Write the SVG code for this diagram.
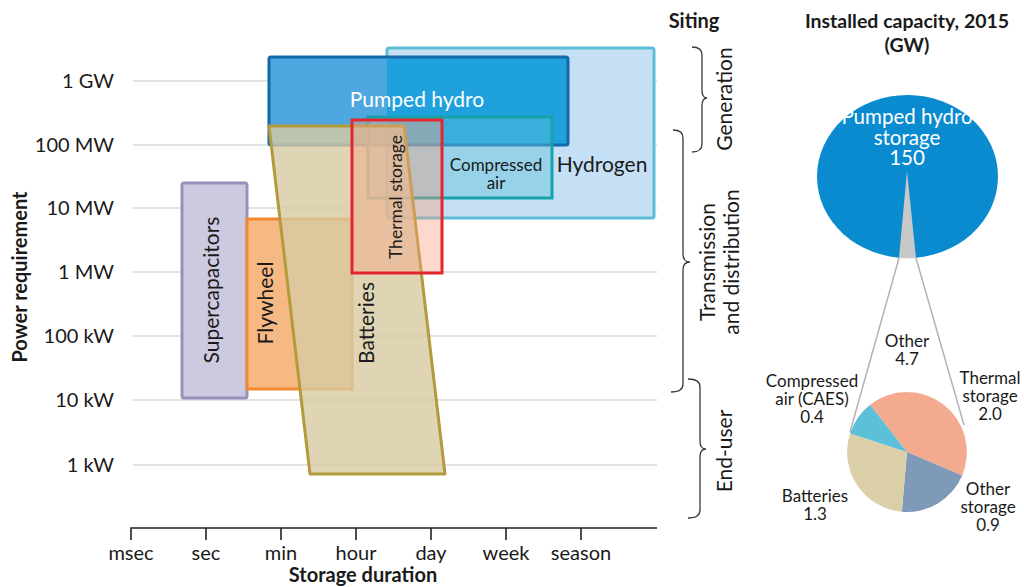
<svg xmlns="http://www.w3.org/2000/svg" width="1024" height="587" viewBox="0 0 1024 587">
  <style>
    text { font-family: Lato, "Liberation Sans", sans-serif; fill: #1a1a1a; }
    .tick { font-size: 20px; }
    .axis-title { font-size: 20px; font-weight: bold; }
    .lbl { font-size: 21px; }
    .sm { font-size: 17px; }
    .pie { font-size: 17px; }
    .big { font-size: 20.5px; fill: #ffffff; }
    .white { fill: #ffffff; }
    .grid { stroke: #d9d9d9; stroke-width: 1.5; }
    .brace { fill: none; stroke: #3a3a3a; stroke-width: 1.3; }
    .zoomline { stroke: #b3b3b3; stroke-width: 1.5; fill: none; }
  </style>

  <rect width="1024" height="587" fill="#ffffff"/>

  <!-- power gridlines -->
  <g id="grid">
    <line class="grid" x1="133" y1="81" x2="657" y2="81"/>
    <line class="grid" x1="133" y1="145" x2="657" y2="145"/>
    <line class="grid" x1="133" y1="208" x2="657" y2="208"/>
    <line class="grid" x1="133" y1="272" x2="657" y2="272"/>
    <line class="grid" x1="133" y1="336" x2="657" y2="336"/>
    <line class="grid" x1="133" y1="400" x2="657" y2="400"/>
    <line class="grid" x1="133" y1="465" x2="657" y2="465"/>
  </g>

  <!-- y axis labels -->
  <g id="y-axis">
    <text class="tick" x="114" y="88" text-anchor="end">1 GW</text>
    <text class="tick" x="114" y="152" text-anchor="end">100 MW</text>
    <text class="tick" x="114" y="215" text-anchor="end">10 MW</text>
    <text class="tick" x="114" y="279" text-anchor="end">1 MW</text>
    <text class="tick" x="114" y="343" text-anchor="end">100 kW</text>
    <text class="tick" x="114" y="407" text-anchor="end">10 kW</text>
    <text class="tick" x="114" y="472" text-anchor="end">1 kW</text>
    <text class="axis-title" transform="translate(27,277) rotate(-90)" text-anchor="middle">Power requirement</text>
  </g>

  <!-- x axis -->
  <g id="x-axis">
    <path d="M131,540 V528 H657 M206,528 V540 M281,528 V540 M356,528 V540 M431,528 V540 M506,528 V540 M581,528 V540" fill="none" stroke="#222" stroke-width="1.6"/>
    <text class="tick" x="131" y="560" text-anchor="middle">msec</text>
    <text class="tick" x="206" y="560" text-anchor="middle">sec</text>
    <text class="tick" x="281" y="560" text-anchor="middle">min</text>
    <text class="tick" x="356" y="560" text-anchor="middle">hour</text>
    <text class="tick" x="431" y="560" text-anchor="middle">day</text>
    <text class="tick" x="506" y="560" text-anchor="middle">week</text>
    <text class="tick" x="581" y="560" text-anchor="middle">season</text>
    <text class="axis-title" x="363" y="582" text-anchor="middle">Storage duration</text>
  </g>

  <!-- storage technology ranges -->
  <g id="hydrogen">
    <rect x="387" y="48" width="267" height="170" rx="2" fill="#c5e0f4" stroke="#5cbdd7" stroke-width="3"/>
  </g>
  <g id="pumped-hydro">
    <rect x="269" y="57" width="299" height="88" rx="2" fill="#4fa7df"/>
    <rect x="387" y="57" width="181" height="88" fill="#1ea1dd"/>
    <rect x="269" y="57" width="299" height="88" rx="2" fill="none" stroke="#1469a8" stroke-width="3"/>
  </g>
  <g id="compressed-air">
    <rect x="368" y="117" width="184" height="81" fill="#5fc0dc" fill-opacity="0.45" stroke="#16a2aa" stroke-width="3"/>
  </g>
  <g id="supercapacitors">
    <rect x="182" y="183" width="65" height="215" rx="2" fill="#cdc9df" stroke="#9b90bd" stroke-width="3"/>
  </g>
  <g id="flywheel">
    <rect x="247" y="219" width="105" height="170" fill="#f7b984" stroke="#f08a2c" stroke-width="3"/>
  </g>
  <g id="batteries">
    <polygon points="269,126 404,126 445,474 310,474" fill="#d7caa2" fill-opacity="0.8" stroke="#b39b3c" stroke-width="3" stroke-linejoin="round"/>
  </g>
  <g id="thermal-storage">
    <rect x="352" y="120" width="90" height="153" fill="#f7a080" fill-opacity="0.4" stroke="#e3262e" stroke-width="3"/>
  </g>

  <!-- technology labels -->
  <g id="tech-labels">
    <text class="lbl white" x="417" y="107" text-anchor="middle">Pumped hydro</text>
    <text class="sm" x="496" y="171" text-anchor="middle">Compressed</text>
    <text class="sm" x="496" y="189" text-anchor="middle">air</text>
    <text class="lbl" x="602" y="172" text-anchor="middle">Hydrogen</text>
    <text class="sm" transform="translate(402,197) rotate(-90)" text-anchor="middle" style="font-size:17.5px">Thermal storage</text>
    <text class="lbl" transform="translate(374,323) rotate(-90)" text-anchor="middle">Batteries</text>
    <text class="lbl" transform="translate(273,303) rotate(-90)" text-anchor="middle">Flywheel</text>
    <text class="lbl" transform="translate(219,290) rotate(-90)" text-anchor="middle">Supercapacitors</text>
  </g>

  <!-- siting column -->
  <g id="siting">
    <text class="axis-title" x="694" y="28" text-anchor="middle">Siting</text>
    <path class="brace" d="M692,47 Q702,47 702,55 V90 Q702,98 707,98 Q702,98 702,106 V144 Q702,152 692,152"/>
    <path class="brace" d="M673,130 Q683,130 683,138 V254 Q683,262 690,262 Q683,262 683,270 V384 Q683,392 671,392"/>
    <path class="brace" d="M688,379 Q700,379 700,387 V441 Q700,449 706,449 Q700,449 700,457 V510 Q700,518 688,518"/>
    <text class="lbl" transform="translate(732,99) rotate(-90)" text-anchor="middle">Generation</text>
    <text class="lbl" transform="translate(715,262) rotate(-90)" text-anchor="middle">Transmission</text>
    <text class="lbl" transform="translate(739,262) rotate(-90)" text-anchor="middle">and distribution</text>
    <text class="lbl" transform="translate(732,451) rotate(-90)" text-anchor="middle">End-user</text>
  </g>

  <!-- installed capacity -->
  <g id="capacity">
    <text class="axis-title" x="907" y="28" text-anchor="middle" style="font-size:19.5px">Installed capacity, 2015</text>
    <text class="axis-title" x="907" y="52" text-anchor="middle" style="font-size:19.5px">(GW)</text>
  </g>

  <g id="pie-main">
    <ellipse cx="907.5" cy="176.5" rx="90.5" ry="81.5" fill="#0a8bd0"/>
    <path d="M907,171 L916,258 Q907.5,258.5 899,258 Z" fill="#c8c8c8"/>
    <text class="big" x="907" y="124" text-anchor="middle">Pumped hydro</text>
    <text class="big" x="907" y="145" text-anchor="middle">storage</text>
    <text class="big" x="907" y="165" text-anchor="middle">150</text>
  </g>

  <g id="connectors">
    <line class="zoomline" x1="899" y1="258" x2="850" y2="432"/>
    <line class="zoomline" x1="916" y1="258" x2="964" y2="425"/>
  </g>

  <!-- breakdown of other 4.7 GW -->
  <g id="pie-other">
    <path d="M907,452 L870.1,404.7 A60,60 0 0,1 962.2,475.4 Z" fill="#f4aa8f"/>
    <path d="M907,452 L962.2,475.4 A60,60 0 0,1 901.8,511.8 Z" fill="#7f9ab8"/>
    <path d="M907,452 L901.8,511.8 A60,60 0 0,1 850.1,433.5 Z" fill="#dbcfa7"/>
    <path d="M907,452 L850.1,433.5 A60,60 0 0,1 870.1,404.7 Z" fill="#5dc0d9"/>
    <text class="pie" x="907" y="347" text-anchor="middle">Other</text>
    <text class="pie" x="907" y="365" text-anchor="middle">4.7</text>
    <text class="pie" x="812" y="387" text-anchor="middle">Compressed</text>
    <text class="pie" x="812" y="405" text-anchor="middle">air (CAES)</text>
    <text class="pie" x="812" y="423" text-anchor="middle">0.4</text>
    <text class="pie" x="990" y="384" text-anchor="middle">Thermal</text>
    <text class="pie" x="990" y="402" text-anchor="middle">storage</text>
    <text class="pie" x="990" y="420" text-anchor="middle">2.0</text>
    <text class="pie" x="815" y="502" text-anchor="middle">Batteries</text>
    <text class="pie" x="815" y="520" text-anchor="middle">1.3</text>
    <text class="pie" x="988" y="495" text-anchor="middle">Other</text>
    <text class="pie" x="988" y="513" text-anchor="middle">storage</text>
    <text class="pie" x="988" y="531" text-anchor="middle">0.9</text>
  </g>
</svg>
